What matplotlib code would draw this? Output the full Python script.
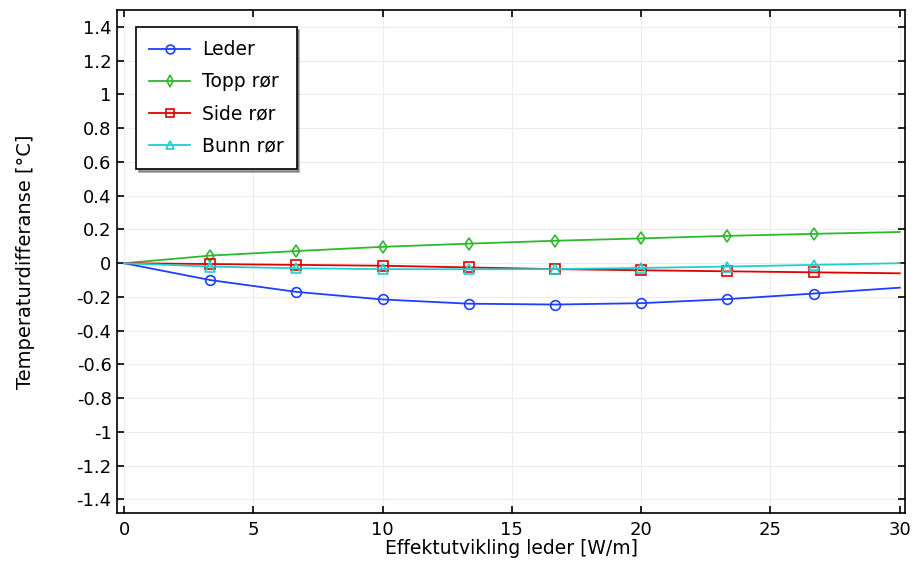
import matplotlib
matplotlib.use('Agg')
import matplotlib.pyplot as plt
import numpy as np

plt.rcParams['font.family'] = ['DejaVu Sans']
plt.rcParams['axes.unicode_minus'] = False

# effektutvikling [W/m]
effekt = [0, 10 / 3, 20 / 3, 10, 40 / 3, 50 / 3, 20, 70 / 3, 80 / 3, 30]

# temperaturdifferanse [degC] per posisjon
leder = [0, -0.10, -0.17, -0.215, -0.24, -0.245, -0.237, -0.213, -0.18, -0.145]
topp_ror = [0, 0.045, 0.072, 0.097, 0.116, 0.133, 0.147, 0.162, 0.174, 0.185]
side_ror = [0, -0.005, -0.01, -0.015, -0.025, -0.035, -0.042, -0.048, -0.054, -0.06]
bunn_ror = [0, -0.02, -0.03, -0.035, -0.036, -0.035, -0.028, -0.02, -0.01, 0.0]

yticks = [1.4, 1.2, 1, 0.8, 0.6, 0.4, 0.2, 0, -0.2, -0.4, -0.6, -0.8, -1, -1.2, -1.4]
ytick_labels = ['1.4', '1.2', '1', '0.8', '0.6', '0.4', '0.2', '0',
                '-0.2', '-0.4', '-0.6', '-0.8', '-1', '-1.2', '-1.4']

fig = plt.figure(figsize=(9.15, 5.63), dpi=100)
ax = fig.add_axes([0.128, 0.089, 0.861, 0.893])

series = [
    (leder, 'Leder', '#1f3fff', 'o', 7),
    (topp_ror, 'Topp rør', '#2db82d', 'd', 6.5),
    (side_ror, 'Side rør', '#e00000', 's', 7),
    (bunn_ror, 'Bunn rør', '#1fd0d0', '^', 7),
]
for y, name, color, marker, ms in series:
    ax.plot(effekt, y, color=color, lw=1.3, marker=marker, ms=ms,
            mfc='none', mec=color, mew=1.2, markevery=list(range(1, 9)),
            label=name)

ax.set_xlim(-0.27, 30.2)
ax.set_ylim(-1.48, 1.5)
ax.set_xticks([0, 5, 10, 15, 20, 25, 30])
ax.set_yticks(yticks)
ax.set_yticklabels(ytick_labels)
ax.grid(True, color='#ececec', lw=0.8)
ax.set_axisbelow(True)
ax.tick_params(direction='in', top=True, right=True, length=5, width=1.2,
               labelsize=13, pad=4)
ax.tick_params(axis='x', pad=6)
for spine in ax.spines.values():
    spine.set_linewidth(1.2)

ax.set_xlabel('Effektutvikling leder [W/m]', fontsize=13.5, labelpad=0)
ax.set_ylabel('Temperaturdifferanse [°C]', fontsize=14, labelpad=30)

leg = ax.legend(loc='upper left', bbox_to_anchor=(0.024, 0.966), fontsize=13.5,
                fancybox=False, shadow=True, edgecolor='black',
                handlelength=2.2, handletextpad=0.6, labelspacing=0.7,
                borderpad=0.7, borderaxespad=0, markerscale=0.9)
leg.get_frame().set_linewidth(1.2)

plt.savefig('out.png', dpi=100)
plt.close()
